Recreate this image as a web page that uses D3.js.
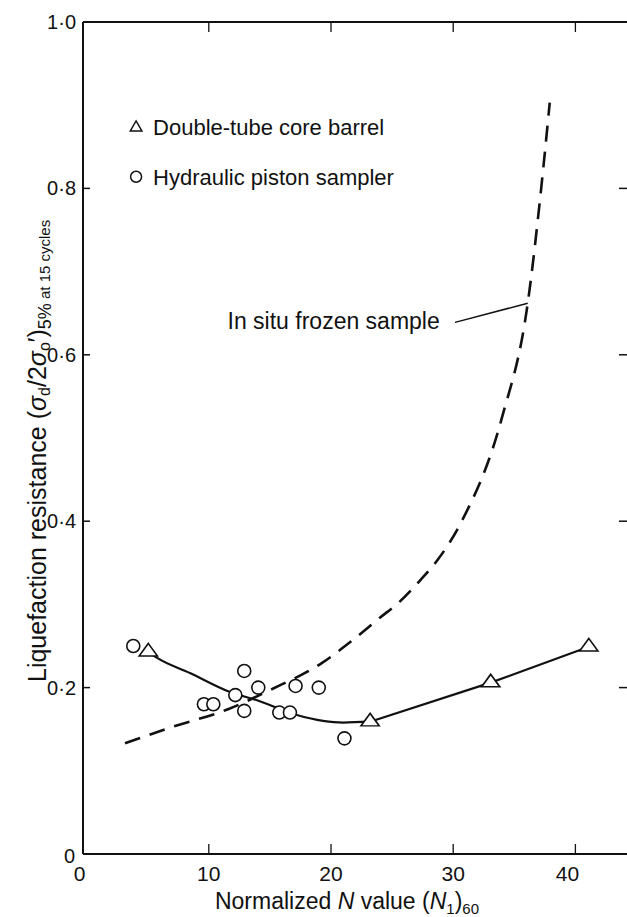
<!DOCTYPE html>
<html><head><meta charset="utf-8">
<script src="https://cdn.jsdelivr.net/npm/d3@7"></script>
<style>
html,body{margin:0;padding:0;background:#fff;}
svg{display:block;font-family:"Liberation Sans",Arial,Helvetica,sans-serif;}
</style></head>
<body>
<svg id="c" width="627" height="917"></svg>
<script>
// ---- data ----
const xTicks = [0, 10, 20, 30, 40];
const xTickLabels = ["0", "10", "20", "30", "40"];
const yTicks = [0, 0.2, 0.4, 0.6, 0.8, 1.0];
const yTickLabels = ["0", "0·2", "0·4", "0·6", "0·8", "1·0"];

// Double-tube core barrel (triangles)
const tubeX = [5.05, 23.2, 33.07, 41.1];
const tubeY = [0.243, 0.159, 0.206, 0.249];

// Hydraulic piston sampler (circles)
const pistonX = [3.82, 12.9, 14.05, 17.1, 19.0, 12.17, 9.6, 10.37, 12.9, 15.77, 16.64, 21.1];
const pistonY = [0.250, 0.220, 0.200, 0.202, 0.200, 0.191, 0.180, 0.180, 0.172, 0.170, 0.170, 0.139];

// Solid fitted curve: smooth part, then straight segments
const fitCurveX = [5.05, 5.74, 8.46, 11.73, 13.9, 17.2, 19.35, 21.0, 23.2];
const fitCurveY = [0.243, 0.236, 0.2175, 0.1947, 0.185, 0.167, 0.160, 0.158, 0.159];
const fitStraightX = [23.2, 33.07, 41.1];
const fitStraightY = [0.159, 0.206, 0.249];

// In situ frozen sample (dashed)
const frozenX = [3.14, 7.07, 11.57, 15.0, 19.3, 21.6, 24.0, 25.6, 27.3, 28.7, 30.7, 34.0, 36.1, 37.2, 37.9];
const frozenY = [0.133, 0.153, 0.174, 0.197, 0.230, 0.255, 0.284, 0.303, 0.329, 0.353, 0.400, 0.525, 0.662, 0.800, 0.903];

const legendLabels = ["Double-tube core barrel", "Hydraulic piston sampler"];
const annotationLabel = "In situ frozen sample";

// ---- layout ----
const svg = d3.select("#c");
const x = d3.scaleLinear().domain([0, 40]).range([86.6, 575.4]);
const y = d3.scaleLinear().domain([0, 1]).range([854, 22]);
const axisLeftX = 83, rightEdge = 627;
const ink = "#111";

// frame: left axis, bottom axis, top line
svg.append("line").attr("x1", axisLeftX).attr("x2", axisLeftX).attr("y1", y(1)).attr("y2", y(0))
  .attr("stroke", ink).attr("stroke-width", 2);
svg.append("line").attr("x1", axisLeftX).attr("x2", rightEdge).attr("y1", y(0)).attr("y2", y(0))
  .attr("stroke", ink).attr("stroke-width", 2.2);
svg.append("line").attr("x1", axisLeftX).attr("x2", rightEdge).attr("y1", y(1)).attr("y2", y(1))
  .attr("stroke", ink).attr("stroke-width", 1.8);

// x ticks (bottom, inward) and top ticks
const xt = xTicks.filter(d => d > 0);
svg.selectAll(".xtb").data(xt).enter().append("line")
  .attr("x1", d => x(d)).attr("x2", d => x(d)).attr("y1", y(0)).attr("y2", y(0) - 10)
  .attr("stroke", ink).attr("stroke-width", 1.3);
svg.selectAll(".xtt").data(xt).enter().append("line")
  .attr("x1", d => x(d)).attr("x2", d => x(d)).attr("y1", y(1)).attr("y2", y(1) + 10)
  .attr("stroke", ink).attr("stroke-width", 1.3);
// y ticks left (inward) and right
const yt = yTicks.filter(d => d > 0 && d < 1);
svg.selectAll(".ytl").data(yt).enter().append("line")
  .attr("x1", axisLeftX).attr("x2", axisLeftX + 7).attr("y1", d => y(d)).attr("y2", d => y(d))
  .attr("stroke", ink).attr("stroke-width", 1.5);
svg.selectAll(".ytr").data(yt).enter().append("line")
  .attr("x1", rightEdge - 8).attr("x2", rightEdge).attr("y1", d => y(d)).attr("y2", d => y(d))
  .attr("stroke", ink).attr("stroke-width", 1.5);

// tick labels
svg.selectAll(".xl").data(xTicks).enter().append("text")
  .attr("x", (d, i) => x(d) + (i === 0 ? -7 : (i === 4 ? -8 : 0)))
  .attr("y", 881).attr("text-anchor", "middle")
  .attr("font-size", 21).attr("fill", ink).text((d, i) => xTickLabels[i]);
svg.selectAll(".yl").data(yTicks).enter().append("text")
  .attr("x", (d, i) => i === 0 ? 75 : 76)
  .attr("y", (d, i) => y(d) + 7 + (i === 0 ? 2 : 0))
  .attr("text-anchor", "end")
  .attr("font-size", 20).attr("fill", ink).text((d, i) => yTickLabels[i]);

// axis titles
const xt1 = svg.append("text").attr("x", 347).attr("y", 909).attr("text-anchor", "middle")
  .attr("font-size", 23).attr("fill", ink);
xt1.append("tspan").text("Normalized ");
xt1.append("tspan").attr("font-style", "italic").text("N");
xt1.append("tspan").text(" value (");
xt1.append("tspan").attr("font-style", "italic").text("N");
xt1.append("tspan").attr("font-size", 15).attr("dy", 5).text("1");
xt1.append("tspan").attr("dy", -5).text(")");
xt1.append("tspan").attr("font-size", 15).attr("dy", 5).text("60");

const yt1 = svg.append("text").attr("transform", "translate(46,682) rotate(-90)")
  .attr("font-size", 25).attr("fill", ink);
yt1.append("tspan").text("Liquefaction resistance (");
yt1.append("tspan").attr("font-style", "italic").text("σ");
yt1.append("tspan").attr("font-size", 16).attr("dy", 4).text("d");
yt1.append("tspan").attr("dy", -4).text("/2");
yt1.append("tspan").attr("font-style", "italic").text("σ");
yt1.append("tspan").attr("font-size", 16).attr("dy", 4).text("o");
yt1.append("tspan").attr("dy", -4).text("′)");
yt1.append("tspan").attr("font-size", 18).attr("dy", 5).text("5%");
yt1.append("tspan").attr("font-size", 15).attr("dy", -1).text(" at 15 cycles");

// lines
const lineCurve = d3.line().x(d => x(d[0])).y(d => y(d[1])).curve(d3.curveMonotoneX);
const lineStraight = d3.line().x(d => x(d[0])).y(d => y(d[1]));

svg.append("path").attr("d", lineCurve(frozenX.map((v, i) => [v, frozenY[i]]))).attr("fill", "none")
  .attr("stroke", ink).attr("stroke-width", 2.6).attr("stroke-dasharray", "16,10");
svg.append("path").attr("d", lineCurve(fitCurveX.map((v, i) => [v, fitCurveY[i]]))).attr("fill", "none")
  .attr("stroke", ink).attr("stroke-width", 2.2);
svg.append("path").attr("d", lineStraight(fitStraightX.map((v, i) => [v, fitStraightY[i]]))).attr("fill", "none")
  .attr("stroke", ink).attr("stroke-width", 2.2);

// markers
const circleR = 6.5;
svg.selectAll(".pc").data(pistonX).enter().append("circle")
  .attr("cx", d => x(d)).attr("cy", (d, i) => y(pistonY[i])).attr("r", circleR)
  .attr("fill", "#fff").attr("stroke", ink).attr("stroke-width", 1.6);
const tri = d3.symbol().type(d3.symbolTriangle).size(100);
svg.selectAll(".tt").data(tubeX).enter().append("path")
  .attr("d", tri).attr("transform", (d, i) => `translate(${x(d)},${y(tubeY[i])}) scale(1.2,0.95)`)
  .attr("fill", "#fff").attr("stroke", ink).attr("stroke-width", 1.5);

// legend
const legX = 4.05;
svg.append("path").attr("d", d3.symbol().type(d3.symbolTriangle).size(60))
  .attr("transform", `translate(${x(legX)},${y(0.873)})`)
  .attr("fill", "#fff").attr("stroke", ink).attr("stroke-width", 1.4);
svg.append("circle").attr("cx", x(legX)).attr("cy", y(0.814)).attr("r", 5.5)
  .attr("fill", "#fff").attr("stroke", ink).attr("stroke-width", 1.5);
svg.append("text").attr("x", x(5.44)).attr("y", y(0.8638)).attr("font-size", 22).attr("fill", ink).text(legendLabels[0]);
svg.append("text").attr("x", x(5.44)).attr("y", y(0.804)).attr("font-size", 22).attr("fill", ink).text(legendLabels[1]);

// annotation
svg.append("text").attr("x", x(28.9)).attr("y", y(0.631)).attr("text-anchor", "end")
  .attr("font-size", 23).attr("fill", ink).text(annotationLabel);
svg.append("line").attr("x1", x(30.15)).attr("y1", y(0.639)).attr("x2", x(36.1)).attr("y2", y(0.662))
  .attr("stroke", ink).attr("stroke-width", 1.5);
</script>
</body></html>
